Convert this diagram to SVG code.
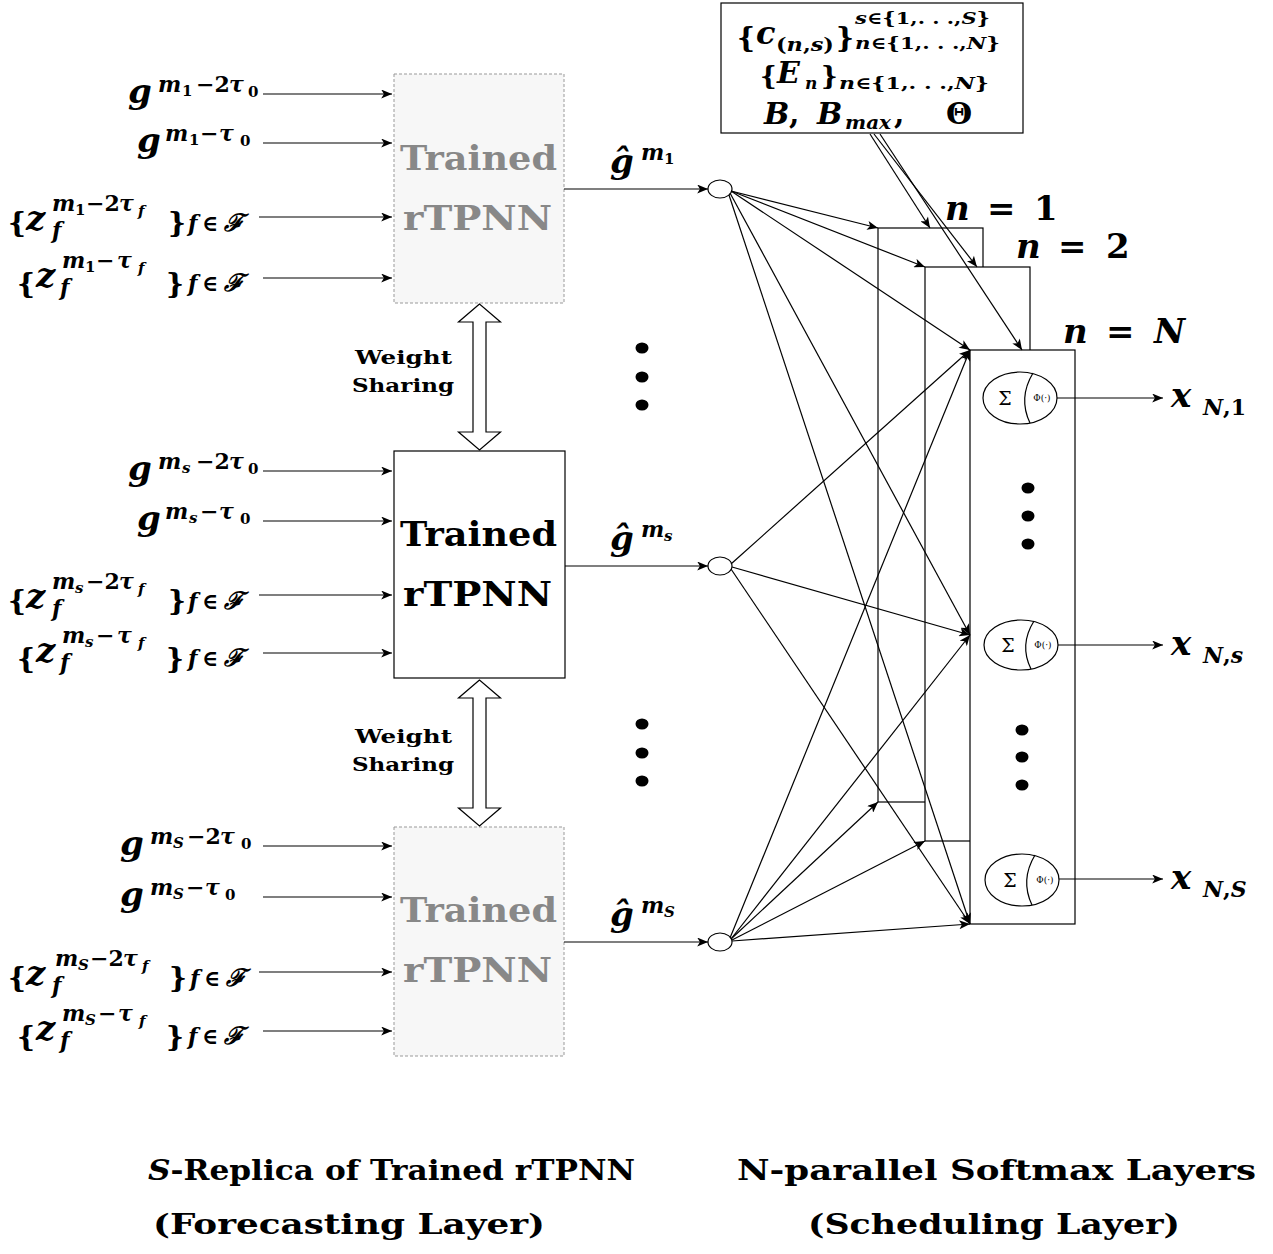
<svg xmlns="http://www.w3.org/2000/svg" width="1273" height="1254" viewBox="0 0 1273 1254">
<defs>
<marker id="ah" viewBox="0 0 12 10" refX="12" refY="5" markerWidth="12" markerHeight="9" markerUnits="userSpaceOnUse" orient="auto"><path d="M0,0 L12,5 L0,10 L3,5 z" fill="#000"/></marker>
<style>
.m{font-family:"DejaVu Serif",serif;font-weight:bold;font-style:italic;fill:#000}
.u{font-style:normal}
.L{font-size:34px}
.S{font-size:22px}
.T{font-size:15px}
.F{font-size:24px}
.B{font-size:28px;font-style:normal}
.c{stroke:#000;stroke-width:1.2;fill:none;marker-end:url(#ah)}
.ln{stroke:#000;stroke-width:1.2;fill:none}
.rep{font-family:"DejaVu Serif",serif;font-weight:bold;font-size:34px}
.ws{font-family:"DejaVu Serif",serif;font-weight:bold;font-size:19px}
.title{font-family:"DejaVu Serif",serif;font-weight:bold;font-size:27px}
.dash{fill:#f7f7f7;stroke:#999;stroke-width:1;stroke-dasharray:3,2}
.lay{fill:#fff;stroke:#000;stroke-width:1.2}
.dot{fill:#000}
.sg{font-family:"DejaVu Serif",serif;font-size:19px;text-anchor:middle}
.ph{font-family:"DejaVu Serif",serif;font-size:9px;text-anchor:middle}
</style>
</defs>
<rect width="1273" height="1254" fill="#fff"/>

<!-- Replica 1 -->
<g id="replica-1">
<rect class="dash" x="394" y="74" width="170" height="229"/>
<text class="rep" x="400" y="170" textLength="157" lengthAdjust="spacingAndGlyphs" fill="#888">Trained</text>
<text class="rep" x="403" y="230" textLength="149" lengthAdjust="spacingAndGlyphs" fill="#888">rTPNN</text>
</g>
<g id="inputs-1">
<text class="m"><tspan class="L" x="128" y="103">g</tspan><tspan class="S" x="158" y="92">m</tspan><tspan class="T u" x="182" y="96">1</tspan><tspan class="S u" x="196" y="92">−2</tspan><tspan class="S" x="229" y="92">τ</tspan><tspan class="T u" x="248" y="97">0</tspan></text>
<text class="m"><tspan class="L" x="137" y="152">g</tspan><tspan class="S" x="165" y="141">m</tspan><tspan class="T u" x="189" y="145">1</tspan><tspan class="S u" x="200" y="141">−</tspan><tspan class="S" x="219" y="141">τ</tspan><tspan class="T u" x="240" y="146">0</tspan></text>
<text class="m"><tspan class="B" x="8" y="232">{</tspan><tspan class="L" x="26" y="230">z</tspan><tspan class="S" x="52" y="211">m</tspan><tspan class="T u" x="75" y="215">1</tspan><tspan class="S u" x="86" y="211">−2</tspan><tspan class="S" x="119" y="211">τ</tspan><tspan class="T" x="138" y="216">f</tspan><tspan class="S" x="52" y="238">f</tspan><tspan class="B" x="168" y="232">}</tspan><tspan class="S" x="188" y="231">f</tspan><tspan class="S u" x="202" y="231">∈</tspan><tspan class="F" x="224" y="231">ℱ</tspan></text>
<text class="m"><tspan class="B" x="17" y="293">{</tspan><tspan class="L" x="36" y="287">z</tspan><tspan class="S" x="62" y="268">m</tspan><tspan class="T u" x="85" y="272">1</tspan><tspan class="S u" x="96" y="268">−</tspan><tspan class="S" x="117" y="268">τ</tspan><tspan class="T" x="138" y="273">f</tspan><tspan class="S" x="60" y="295">f</tspan><tspan class="B" x="166" y="293">}</tspan><tspan class="S" x="188" y="291">f</tspan><tspan class="S u" x="202" y="291">∈</tspan><tspan class="F" x="224" y="291">ℱ</tspan></text>
</g>

<!-- Replica s -->
<g id="replica-s">
<rect x="394" y="451" width="171" height="227" fill="#fff" stroke="#000" stroke-width="1.2"/>
<text class="rep" x="400" y="546" textLength="157" lengthAdjust="spacingAndGlyphs">Trained</text>
<text class="rep" x="403" y="606" textLength="149" lengthAdjust="spacingAndGlyphs">rTPNN</text>
</g>
<g id="inputs-s">
<text class="m"><tspan class="L" x="128" y="480">g</tspan><tspan class="S" x="158" y="469">m</tspan><tspan class="T" x="182" y="473">s</tspan><tspan class="S u" x="196" y="469">−2</tspan><tspan class="S" x="229" y="469">τ</tspan><tspan class="T u" x="248" y="474">0</tspan></text>
<text class="m"><tspan class="L" x="137" y="530">g</tspan><tspan class="S" x="165" y="519">m</tspan><tspan class="T" x="189" y="523">s</tspan><tspan class="S u" x="200" y="519">−</tspan><tspan class="S" x="219" y="519">τ</tspan><tspan class="T u" x="240" y="524">0</tspan></text>
<text class="m"><tspan class="B" x="8" y="610">{</tspan><tspan class="L" x="26" y="608">z</tspan><tspan class="S" x="52" y="589">m</tspan><tspan class="T" x="75" y="593">s</tspan><tspan class="S u" x="86" y="589">−2</tspan><tspan class="S" x="119" y="589">τ</tspan><tspan class="T" x="138" y="594">f</tspan><tspan class="S" x="52" y="616">f</tspan><tspan class="B" x="168" y="610">}</tspan><tspan class="S" x="188" y="609">f</tspan><tspan class="S u" x="202" y="609">∈</tspan><tspan class="F" x="224" y="609">ℱ</tspan></text>
<text class="m"><tspan class="B" x="17" y="668">{</tspan><tspan class="L" x="36" y="662">z</tspan><tspan class="S" x="62" y="643">m</tspan><tspan class="T" x="85" y="647">s</tspan><tspan class="S u" x="96" y="643">−</tspan><tspan class="S" x="117" y="643">τ</tspan><tspan class="T" x="138" y="648">f</tspan><tspan class="S" x="60" y="670">f</tspan><tspan class="B" x="166" y="668">}</tspan><tspan class="S" x="188" y="666">f</tspan><tspan class="S u" x="202" y="666">∈</tspan><tspan class="F" x="224" y="666">ℱ</tspan></text>
</g>

<!-- Replica S -->
<g id="replica-S">
<rect class="dash" x="394" y="827" width="170" height="229"/>
<text class="rep" x="400" y="922" textLength="157" lengthAdjust="spacingAndGlyphs" fill="#888">Trained</text>
<text class="rep" x="403" y="982" textLength="149" lengthAdjust="spacingAndGlyphs" fill="#888">rTPNN</text>
</g>
<g id="inputs-S">
<text class="m"><tspan class="L" x="120" y="855">g</tspan><tspan class="S" x="150" y="844">m</tspan><tspan class="T" x="173" y="848">S</tspan><tspan class="S u" x="187" y="844">−2</tspan><tspan class="S" x="220" y="844">τ</tspan><tspan class="T u" x="241" y="849">0</tspan></text>
<text class="m"><tspan class="L" x="120" y="906">g</tspan><tspan class="S" x="150" y="895">m</tspan><tspan class="T" x="173" y="899">S</tspan><tspan class="S u" x="186" y="895">−</tspan><tspan class="S" x="205" y="895">τ</tspan><tspan class="T u" x="225" y="900">0</tspan></text>
<text class="m"><tspan class="B" x="8" y="987">{</tspan><tspan class="L" x="26" y="985">z</tspan><tspan class="S" x="55" y="966">m</tspan><tspan class="T" x="78" y="970">S</tspan><tspan class="S u" x="90" y="966">−2</tspan><tspan class="S" x="123" y="966">τ</tspan><tspan class="T" x="142" y="971">f</tspan><tspan class="S" x="52" y="993">f</tspan><tspan class="B" x="169" y="987">}</tspan><tspan class="S" x="190" y="986">f</tspan><tspan class="S u" x="204" y="986">∈</tspan><tspan class="F" x="226" y="986">ℱ</tspan></text>
<text class="m"><tspan class="B" x="17" y="1046">{</tspan><tspan class="L" x="36" y="1040">z</tspan><tspan class="S" x="62" y="1021">m</tspan><tspan class="T" x="85" y="1025">S</tspan><tspan class="S u" x="98" y="1021">−</tspan><tspan class="S" x="118" y="1021">τ</tspan><tspan class="T" x="139" y="1026">f</tspan><tspan class="S" x="60" y="1048">f</tspan><tspan class="B" x="166" y="1046">}</tspan><tspan class="S" x="188" y="1044">f</tspan><tspan class="S u" x="202" y="1044">∈</tspan><tspan class="F" x="224" y="1044">ℱ</tspan></text>
</g>

<!-- Weight sharing -->
<g id="weight-sharing-1">
<polygon points="479.5,304 458.5,322 473,322 473,432 458.5,432 479.5,450 500.5,432 486,432 486,322 500.5,322" fill="#fff" stroke="#000" stroke-width="1.2"/>
<text class="ws" x="355" y="364" textLength="97" lengthAdjust="spacingAndGlyphs">Weight</text>
<text class="ws" x="352" y="392" textLength="102" lengthAdjust="spacingAndGlyphs">Sharing</text>
</g>
<g id="weight-sharing-2">
<polygon points="479.5,680 458.5,698 473,698 473,808 458.5,808 479.5,826 500.5,808 486,808 486,698 500.5,698" fill="#fff" stroke="#000" stroke-width="1.2"/>
<text class="ws" x="355" y="743" textLength="97" lengthAdjust="spacingAndGlyphs">Weight</text>
<text class="ws" x="352" y="771" textLength="102" lengthAdjust="spacingAndGlyphs">Sharing</text>
</g>

<!-- Forecast outputs -->
<g id="out-1">
<ellipse cx="720" cy="189" rx="12" ry="9" fill="#fff" stroke="#000" stroke-width="1.2"/>
<text class="m"><tspan class="L" x="610" y="173">ĝ</tspan><tspan class="S" x="641" y="160">m</tspan><tspan class="T u" x="664" y="164">1</tspan></text>
</g>
<g id="out-s">
<ellipse cx="720" cy="566" rx="12" ry="9" fill="#fff" stroke="#000" stroke-width="1.2"/>
<text class="m"><tspan class="L" x="610" y="550">ĝ</tspan><tspan class="S" x="641" y="537">m</tspan><tspan class="T" x="664" y="541">s</tspan></text>
</g>
<g id="out-S">
<ellipse cx="720" cy="942" rx="12" ry="9" fill="#fff" stroke="#000" stroke-width="1.2"/>
<text class="m"><tspan class="L" x="610" y="926">ĝ</tspan><tspan class="S" x="641" y="913">m</tspan><tspan class="T" x="664" y="917">S</tspan></text>
</g>

<g id="dots">
<ellipse class="dot" cx="642" cy="348" rx="6.5" ry="5.5"/>
<ellipse class="dot" cx="642" cy="377" rx="6.5" ry="5.5"/>
<ellipse class="dot" cx="642" cy="405" rx="6.5" ry="5.5"/>
<ellipse class="dot" cx="642" cy="724" rx="6.5" ry="5.5"/>
<ellipse class="dot" cx="642" cy="753" rx="6.5" ry="5.5"/>
<ellipse class="dot" cx="642" cy="781" rx="6.5" ry="5.5"/>
</g>

<!-- Parameters -->
<g id="params">
<rect x="721" y="3" width="302" height="130" fill="#fff" stroke="#000" stroke-width="1.2"/>
<text class="m"><tspan class="B" x="737" y="47">{</tspan><tspan style="font-size:32px" x="756" y="44">c</tspan></text>
<text class="m" x="776" y="51" style="font-size:18px" textLength="58" lengthAdjust="spacingAndGlyphs"><tspan class="u">(</tspan>n<tspan class="u">,</tspan>s<tspan class="u">)</tspan></text>
<text class="m"><tspan class="B" x="836" y="47">}</tspan></text>
<text class="m" x="855" y="24" style="font-size:17px" textLength="135" lengthAdjust="spacingAndGlyphs">s<tspan class="u">∈{1,. . .,</tspan>S<tspan class="u">}</tspan></text>
<text class="m" x="855" y="49" style="font-size:17px" textLength="145" lengthAdjust="spacingAndGlyphs">n<tspan class="u">∈{1,. . .,</tspan>N<tspan class="u">}</tspan></text>
<text class="m"><tspan style="font-size:26px;font-style:normal" x="760" y="85">{</tspan><tspan style="font-size:30px" x="777" y="83">E</tspan><tspan style="font-size:17px" x="805" y="89">n</tspan><tspan style="font-size:26px;font-style:normal" x="821" y="85">}</tspan></text>
<text class="m" x="839" y="89" style="font-size:17px" textLength="150" lengthAdjust="spacingAndGlyphs">n<tspan class="u">∈{1,. . .,</tspan>N<tspan class="u">}</tspan></text>
<text class="m"><tspan style="font-size:30px" x="764" y="124">B</tspan><tspan style="font-size:30px" class="u" x="789" y="124">,</tspan><tspan style="font-size:30px" x="817" y="124">B</tspan></text>
<text class="m" x="845" y="129" style="font-size:18px" textLength="46" lengthAdjust="spacingAndGlyphs">max</text>
<text class="m"><tspan style="font-size:30px" class="u" x="894" y="124">,</tspan><tspan style="font-size:30px" class="u" x="946" y="124">Θ</tspan></text>
</g>

<!-- Softmax layers -->
<g id="layer-1">
<rect class="lay" x="878" y="228" width="105" height="574"/>
<text class="m"><tspan style="font-size:34px" x="945" y="220">n</tspan><tspan class="u" style="font-size:34px" x="987" y="220">=</tspan><tspan class="u" style="font-size:34px" x="1034" y="220">1</tspan></text>
</g>
<g id="layer-2">
<rect class="lay" x="925" y="267" width="105" height="574"/>
<text class="m"><tspan style="font-size:34px" x="1016" y="258">n</tspan><tspan class="u" style="font-size:34px" x="1058" y="258">=</tspan><tspan class="u" style="font-size:34px" x="1106" y="258">2</tspan></text>
</g>
<g id="layer-N">
<rect class="lay" x="970" y="350" width="105" height="574"/>
<text class="m"><tspan style="font-size:34px" x="1063" y="343">n</tspan><tspan class="u" style="font-size:34px" x="1106" y="343">=</tspan><tspan style="font-size:34px" x="1154" y="343">N</tspan></text>
<ellipse class="dot" cx="1028" cy="488" rx="6.5" ry="5.5"/>
<ellipse class="dot" cx="1028" cy="516" rx="6.5" ry="5.5"/>
<ellipse class="dot" cx="1028" cy="544" rx="6.5" ry="5.5"/>
<ellipse class="dot" cx="1022" cy="730" rx="6.5" ry="5.5"/>
<ellipse class="dot" cx="1022" cy="757" rx="6.5" ry="5.5"/>
<ellipse class="dot" cx="1022" cy="785" rx="6.5" ry="5.5"/>
</g>
<g id="softmax-1">
<ellipse cx="1020" cy="398" rx="37" ry="26" fill="#fff" stroke="#000" stroke-width="1.2"/>
<path class="ln" d="M1033,373 Q1018,398 1030,423"/>
<text class="sg" x="1005" y="405">Σ</text>
<text class="ph" x="1042" y="401">Φ(·)</text>
<text class="m"><tspan style="font-size:34px" x="1171" y="407">x</tspan><tspan style="font-size:22px" x="1203" y="415">N<tspan class="u">,1</tspan></tspan></text>
</g>
<g id="softmax-s">
<ellipse cx="1021" cy="645" rx="37" ry="25" fill="#fff" stroke="#000" stroke-width="1.2"/>
<path class="ln" d="M1034,621 Q1019,645 1031,669"/>
<text class="sg" x="1008" y="652">Σ</text>
<text class="ph" x="1043" y="648">Φ(·)</text>
<text class="m"><tspan style="font-size:34px" x="1171" y="655">x</tspan><tspan style="font-size:22px" x="1203" y="663">N<tspan class="u">,</tspan>s</tspan></text>
</g>
<g id="softmax-S">
<ellipse cx="1022" cy="880" rx="37" ry="26" fill="#fff" stroke="#000" stroke-width="1.2"/>
<path class="ln" d="M1035,855 Q1020,880 1032,905"/>
<text class="sg" x="1010" y="887">Σ</text>
<text class="ph" x="1045" y="883">Φ(·)</text>
<text class="m"><tspan style="font-size:34px" x="1171" y="889">x</tspan><tspan style="font-size:22px" x="1203" y="897">N<tspan class="u">,</tspan>S</tspan></text>
</g>

<!-- Connectors -->
<g id="connectors">
<line class="c" x1="263" y1="94" x2="392" y2="94"/>
<line class="c" x1="263" y1="143" x2="392" y2="143"/>
<line class="c" x1="259" y1="217" x2="392" y2="217"/>
<line class="c" x1="263" y1="278" x2="392" y2="278"/>
<line class="c" x1="263" y1="471" x2="392" y2="471"/>
<line class="c" x1="263" y1="521" x2="392" y2="521"/>
<line class="c" x1="259" y1="595" x2="392" y2="595"/>
<line class="c" x1="263" y1="653" x2="392" y2="653"/>
<line class="c" x1="263" y1="846" x2="392" y2="846"/>
<line class="c" x1="263" y1="897" x2="392" y2="897"/>
<line class="c" x1="259" y1="972" x2="392" y2="972"/>
<line class="c" x1="263" y1="1031" x2="392" y2="1031"/>

<line class="c" x1="564" y1="189" x2="708" y2="189"/>
<line class="c" x1="565" y1="566" x2="708" y2="566"/>
<line class="c" x1="564" y1="942" x2="708" y2="942"/>

<line class="c" x1="731" y1="191" x2="878" y2="228"/>
<line class="c" x1="731" y1="191" x2="925" y2="267"/>
<line class="c" x1="731" y1="191" x2="970" y2="350"/>
<line class="c" x1="730" y1="193" x2="970" y2="635"/>
<line class="c" x1="729" y1="195" x2="970" y2="924"/>

<line class="c" x1="731" y1="564" x2="970" y2="350"/>
<line class="c" x1="732" y1="567" x2="970" y2="635"/>
<line class="c" x1="731" y1="569" x2="970" y2="924"/>

<line class="c" x1="730" y1="938" x2="970" y2="350"/>
<line class="c" x1="731" y1="939" x2="970" y2="635"/>
<line class="c" x1="731" y1="939" x2="878" y2="802"/>
<line class="c" x1="732" y1="940" x2="925" y2="841"/>
<line class="c" x1="732" y1="941" x2="970" y2="924"/>

<line class="c" x1="870" y1="134" x2="930" y2="228"/>
<line class="c" x1="874" y1="134" x2="977" y2="267"/>
<line class="c" x1="880" y1="134" x2="1022" y2="350"/>

<line class="c" x1="1057" y1="398" x2="1163" y2="398"/>
<line class="c" x1="1058" y1="645" x2="1163" y2="645"/>
<line class="c" x1="1059" y1="879" x2="1163" y2="879"/>
</g>

<!-- Titles -->
<g id="titles">
<text class="title" x="148" y="1180" textLength="487" lengthAdjust="spacingAndGlyphs"><tspan font-style="italic">S</tspan>-Replica of Trained rTPNN</text>
<text class="title" x="153" y="1234" textLength="392" lengthAdjust="spacingAndGlyphs">(Forecasting Layer)</text>
<text class="title" x="737" y="1180" textLength="519" lengthAdjust="spacingAndGlyphs">N-parallel Softmax Layers</text>
<text class="title" x="808" y="1234" textLength="372" lengthAdjust="spacingAndGlyphs">(Scheduling Layer)</text>
</g>
</svg>
